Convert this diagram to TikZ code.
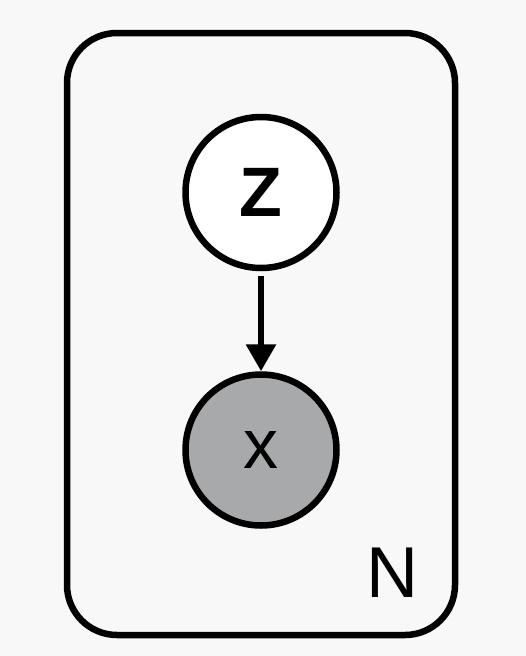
\documentclass[tikz,border=0pt]{standalone}
\usepackage{fontspec}
\setmainfont{Liberation Sans}
\usetikzlibrary{arrows.meta}
\definecolor{bgc}{HTML}{F8F8F8}
\definecolor{obsc}{HTML}{A7A9AB}
\tikzset{
  var/.style={circle, draw=black, line width=6.5pt, minimum size=151pt, inner sep=0pt, font=\fontsize{70}{80}\selectfont},
  plate/.style={draw=black, line width=6.5pt, rounded corners=50pt},
  edge/.style={line width=6pt, -{Triangle[width=29pt,length=27pt]}, shorten <=5pt}
}
\begin{document}
\begin{tikzpicture}[x=1pt,y=-1pt]
\fill[bgc] (0,0) rectangle (526,656);
\useasboundingbox (0,0) rectangle (526,656);
\draw[plate] (67,33) rectangle (455,635);
\node[var, fill=white] (z) at (261,192.5) {\textbf{Z}};
\node[var, fill=obsc] (x) at (261,450) {x};
\draw[edge] (z) -- (x);
\node[font=\fontsize{72}{80}\selectfont, inner sep=0pt] (n) at (392,573) {N};
\end{tikzpicture}
\end{document}
